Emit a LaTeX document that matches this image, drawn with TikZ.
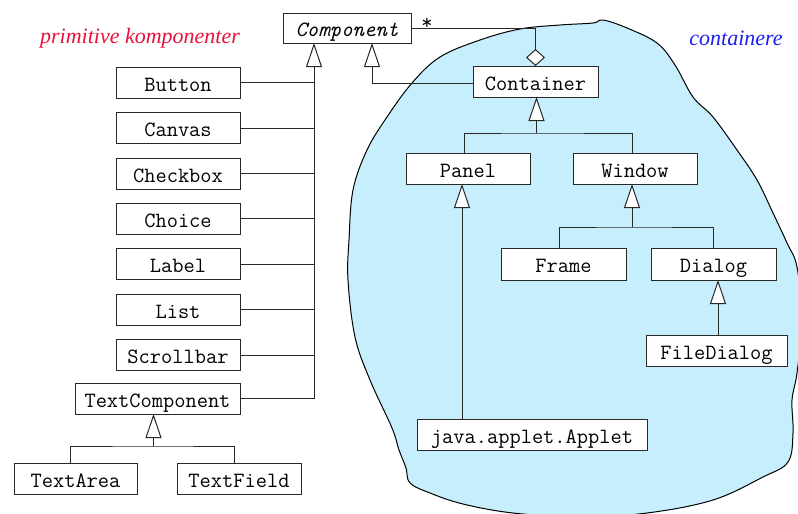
\documentclass[tikz,border=0pt]{standalone}
\usepackage{fontspec}
\setmainfont{Liberation Serif}
\usetikzlibrary{arrows.meta,calc}
\definecolor{blobfill}{RGB}{198,238,253}
\definecolor{lblred}{RGB}{232,16,60}
\definecolor{lblblue}{RGB}{30,30,240}
\definecolor{ink}{RGB}{40,40,40}
\begin{document}
\begin{tikzpicture}[x=1pt,y=-1pt,
  cls/.style={draw=ink, line width=1pt, fill=white, font=\fontsize{21.8}{24}\selectfont\ttfamily, minimum height=31pt, text height=20pt, text depth=3pt, inner sep=0pt, outer sep=0pt},
  conn/.style={draw=ink, line width=1pt},
  inh/.style={conn, -{Triangle[length=24pt,width=16pt,fill=white]}},
  agg/.style={conn, -{Diamond[length=17pt,width=19pt,fill=white]}},
  note/.style={font=\fontsize{22}{26}\selectfont\itshape}]
\useasboundingbox (0,0) rectangle (798,514);
% container region
\filldraw[fill=blobfill, draw=black, line width=1pt] plot[smooth cycle, tension=0.6] coordinates {
 (480,40) (520,29) (560,25) (593,23) (603,20) (627,28) (657,43) (675,65)
 (693,97) (713,117) (737,150) (757,180) (773,213) (787,243) (797,267)
 (802,320) (797,373) (792,400) (793,433) (788,462) (763,477) (713,500)
 (647,513) (580,517) (513,513) (463,504) (430,493) (410,483) (406,468)
 (399,450) (392,428) (370,380) (355,337) (348,280) (349,240) (353,190)
 (367,150) (387,117) (412,83) (440,57)};
% labels
\node[note, text=lblred] (lp) at (140,38) {primitive komponenter};
\node[note, text=lblblue] (lc) at (736,38) {containere};
% classes
\node[cls, minimum width=128pt, minimum height=30pt, font=\fontsize{21.8}{24}\selectfont\ttfamily\itshape] (Component) at (347,28) {Component};
\node[cls, minimum width=125pt] (Container) at (535.5,81.5) {Container};
\node[cls, minimum width=124pt] (Button) at (178,82.5) {Button};
\node[cls, minimum width=124pt] (Canvas) at (178,128) {Canvas};
\node[cls, minimum width=124pt] (Checkbox) at (178,173.5) {Checkbox};
\node[cls, minimum width=124pt] (Choice) at (178,218.5) {Choice};
\node[cls, minimum width=124pt] (Label) at (178,264) {Label};
\node[cls, minimum width=124pt] (List) at (178,309.5) {List};
\node[cls, minimum width=124pt] (Scrollbar) at (178,355) {Scrollbar};
\node[cls, minimum width=165pt] (TextComponent) at (157.5,398.5) {TextComponent};
\node[cls, minimum width=123pt] (TextArea) at (75.5,478.5) {TextArea};
\node[cls, minimum width=124pt] (TextField) at (239,478.5) {TextField};
\node[cls, minimum width=124pt] (Panel) at (468,168.5) {Panel};
\node[cls, minimum width=124pt] (Window) at (635,168.5) {Window};
\node[cls, minimum width=125pt, minimum height=32pt] (Frame) at (563.5,264) {Frame};
\node[cls, minimum width=125pt, minimum height=32pt] (Dialog) at (713.5,264) {Dialog};
\node[cls, minimum width=141pt] (FileDialog) at (716.5,350.5) {FileDialog};
\node[cls, minimum width=230pt] (Applet) at (532,434.5) {java.applet.Applet};
% multiplicity
\node[font=\fontsize{21.8}{24}\selectfont\ttfamily] (star) at (427,24) {*};
% connectors
\coordinate (trunk) at ($(Component.south)+(-33,0)$);
\draw[inh] (TextComponent.east) -| (trunk);
\foreach \n in {Button,Canvas,Checkbox,Choice,Label,List,Scrollbar}
  \draw[conn] (\n.east) -- (\n.east -| trunk);
\draw[inh] ($(Container.west)+(0,1.5)$) -| ($(Component.south)+(25,0)$);
\draw[agg] (Component.east) -| (Container.north);
% TextComponent subtree
\coordinate (tj) at ($(TextComponent.south)+(-4,32)$);
\draw[conn] ($(TextArea.north)+(-5,0)$) |- (tj) -| ($(TextField.north)+(-5,0)$);
\draw[inh] (tj) -- (tj |- TextComponent.south);
% Container subtree
\coordinate (cj) at ($(Container.south)+(1,36)$);
\draw[conn] ($(Panel.north)+(-4,0)$) |- (cj) -| ($(Window.north)+(-3,0)$);
\draw[inh] (cj) -- (cj |- Container.south);
% Window subtree
\coordinate (wj) at ($(Window.south)+(-3,43)$);
\draw[conn] ($(Frame.north)+(-4,0)$) |- (wj) -| (Dialog.north);
\draw[inh] (wj) -- (wj |- Window.south);
% Dialog -> FileDialog
\coordinate (fd) at ($(FileDialog.north)+(1.5,0)$);
\draw[inh] (fd) -- (fd |- Dialog.south);
% Applet -> Panel
\coordinate (pa) at ($(Panel.south)+(-6,0)$);
\draw[inh] (pa |- Applet.north) -- (pa);
\end{tikzpicture}
\end{document}
